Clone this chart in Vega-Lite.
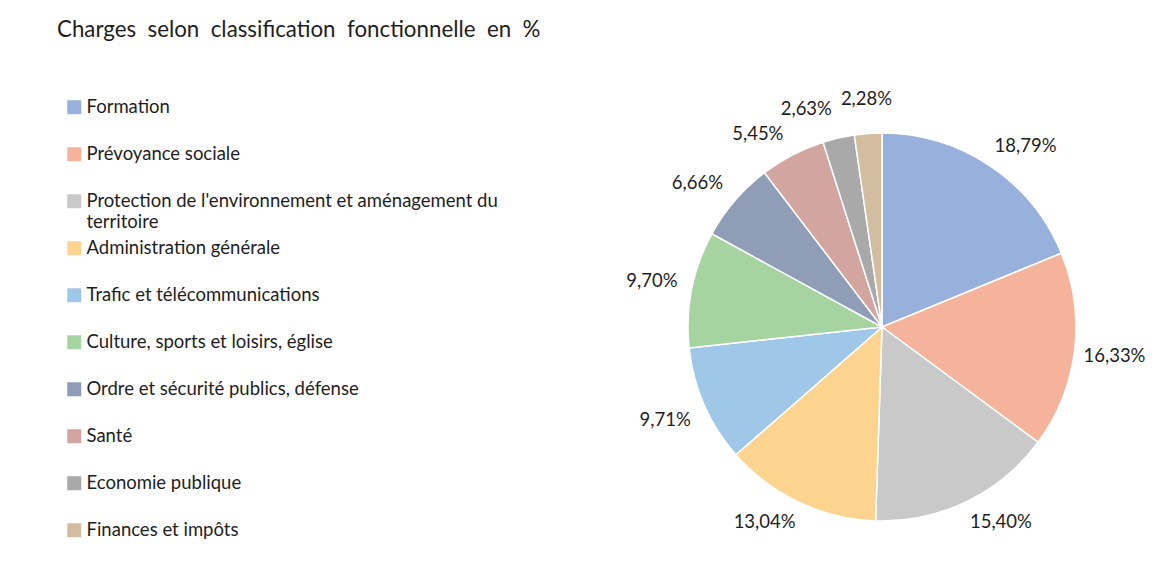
{
  "$schema": "https://vega.github.io/schema/vega-lite/v6.json",
  "width": 1144,
  "height": 560,
  "autosize": {"type": "none"},
  "padding": {"left": 10, "top": 10, "right": 0, "bottom": 0},
  "background": "white",
  "view": {"stroke": null, "fill": "white"},
  "title": {
    "text": "Charges\u00a0 selon\u00a0 classification\u00a0 fonctionnelle\u00a0 en\u00a0 %",
    "anchor": "start",
    "frame": "group",
    "baseline": "alphabetic",
    "dx": 47,
    "dy": 54,
    "font": "Lato",
    "fontSize": 22.3,
    "fontWeight": "normal",
    "color": "#1e1e1e"
  },
  "config": {
    "view": {"stroke": null},
    "locale": {"number": {"decimal": ",", "thousands": " ", "grouping": [3], "currency": ["", " CHF"]}}
  },
  "data": {
    "values": [
      {"cat": "Formation", "share": 0.1879},
      {"cat": "Prévoyance sociale", "share": 0.1633},
      {"cat": "Protection de l'environnement et aménagement du territoire", "share": 0.1540},
      {"cat": "Administration générale", "share": 0.1304},
      {"cat": "Trafic et télécommunications", "share": 0.0971},
      {"cat": "Culture, sports et loisirs, église", "share": 0.0970},
      {"cat": "Ordre et sécurité publics, défense", "share": 0.0666},
      {"cat": "Santé", "share": 0.0545},
      {"cat": "Economie publique", "share": 0.0263},
      {"cat": "Finances et impôts", "share": 0.0228}
    ]
  },
  "layer": [
    {
      "data": {"values": [{}]},
      "mark": {"type": "rule", "x": 0, "x2": "width", "y": 0, "stroke": "#222222", "strokeWidth": 2},
      "encoding": {}
    },
    {
      "data": {"values": [{}]},
      "mark": {"type": "rule", "x": 0, "y": 0, "y2": "height", "stroke": "#222222", "strokeWidth": 2},
      "encoding": {}
    },
    {
      "mark": {"type": "arc", "outerRadius": 194, "stroke": "white", "strokeWidth": 1.5, "x": 872, "y": 317},
      "encoding": {
        "theta": {"field": "share", "type": "quantitative", "stack": true},
        "order": {"field": "share", "type": "quantitative", "sort": "descending"},
        "color": {
          "field": "cat",
          "type": "nominal",
          "sort": ["Formation", "Prévoyance sociale", "Protection de l'environnement et aménagement du territoire", "Administration générale", "Trafic et télécommunications", "Culture, sports et loisirs, église", "Ordre et sécurité publics, défense", "Santé", "Economie publique", "Finances et impôts"],
          "scale": {
            "domain": ["Formation", "Prévoyance sociale", "Protection de l'environnement et aménagement du territoire", "Administration générale", "Trafic et télécommunications", "Culture, sports et loisirs, église", "Ordre et sécurité publics, défense", "Santé", "Economie publique", "Finances et impôts"],
            "range": ["#97b1dc", "#f5b39b", "#c9c9c9", "#fcd48f", "#9fc7e8", "#a6d4a1", "#8f9db6", "#d3a5a0", "#a9a9a9", "#d3bda1"]
          },
          "legend": {
            "title": null,
            "orient": "none",
            "legendX": 55,
            "legendY": 88,
            "padding": 0,
            "symbolType": "square",
            "symbolSize": 196,
            "symbolStrokeWidth": 0,
            "symbolOpacity": 1,
            "labelFont": "Lato",
            "labelFontSize": 18.5,
            "labelColor": "#1e1e1e",
            "labelLimit": 700,
            "labelOffset": 3,
            "rowPadding": 7,
            "labelExpr": "split(replace(datum.label + '|', ' du territoire|', ' du|territoire'), '|')"
          }
        }
      }
    },
    {
      "mark": {
        "type": "text",
        "radius": 204,
        "font": "Lato",
        "fontSize": 18.5,
        "x": 872,
        "y": 317,
        "dx": {"expr": "30 * (sin(PI * (datum.share_start + datum.share_end)) < 0 ? -1 : 1) * min(1, pow(5 * abs(sin(PI * (datum.share_start + datum.share_end))), 2)) + (cos(PI * (datum.share_start + datum.share_end)) > 0.99 ? 3 : 0)"},
        "dy": {"expr": "-11 * clamp(3 * cos(PI * (datum.share_start + datum.share_end)), -1, 1) - 14 * pow(max(0, cos(PI * (datum.share_start + datum.share_end))), 20)"}
      },
      "encoding": {
        "theta": {"field": "share", "type": "quantitative", "stack": true},
        "order": {"field": "share", "type": "quantitative", "sort": "descending"},
        "text": {"field": "share", "type": "quantitative", "format": ".2%"},
        "color": {"value": "#1e1e1e"}
      }
    }
  ]
}
